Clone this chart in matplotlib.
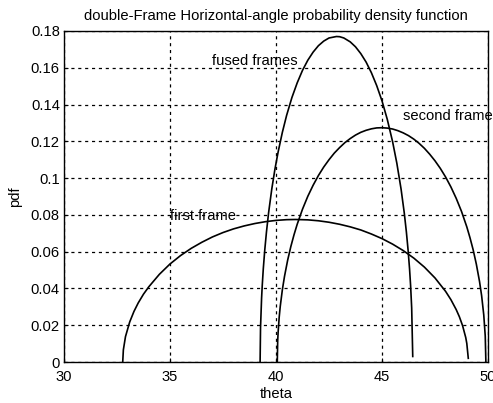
import matplotlib
matplotlib.use('Agg')
import matplotlib.pyplot as plt

# values
first_theta = [32.77, 32.8, 32.9, 33.1, 33.3, 33.5, 33.75, 34, 34.5, 35, 35.5, 36, 36.5,
               37, 37.5, 38, 38.5, 39, 39.5, 40, 40.5, 40.92, 41.5, 42, 42.5, 43, 43.5,
               44, 44.5, 45, 45.5, 46, 46.5, 47, 47.5, 48, 48.25, 48.5, 48.65, 48.8,
               48.95, 49.0, 49.07]
first_pdf = [0.0, 0.0066, 0.0138, 0.0218, 0.0275, 0.0321, 0.0369, 0.0409, 0.0477, 0.0533,
             0.0579, 0.0618, 0.0651, 0.0680, 0.0704, 0.0724, 0.0740, 0.0753, 0.0763,
             0.0770, 0.0774, 0.0775, 0.0773, 0.0768, 0.0760, 0.0749, 0.0735, 0.0718,
             0.0696, 0.0671, 0.0641, 0.0606, 0.0565, 0.0516, 0.0457, 0.0384, 0.0339,
             0.0285, 0.0246, 0.0198, 0.0133, 0.0101, 0.002]

second_theta = [40.06, 40.08, 40.1, 40.15, 40.2, 40.3, 40.4, 40.55, 40.7, 40.85, 41, 41.25,
                41.5, 41.75, 42, 42.25, 42.5, 42.75, 43, 43.25, 43.5, 43.75, 44, 44.25,
                44.5, 44.75, 44.98, 45.25, 45.5, 45.75, 46, 46.25, 46.5, 46.75, 47, 47.25,
                47.5, 47.75, 48, 48.25, 48.5, 48.75, 49, 49.15, 49.3, 49.45, 49.6, 49.7,
                49.8, 49.87, 49.9]
second_pdf = [0.0, 0.0115, 0.0162, 0.0243, 0.0302, 0.0393, 0.0465, 0.0554, 0.0628, 0.0692,
              0.0749, 0.0831, 0.0901, 0.0961, 0.1014, 0.1060, 0.1100, 0.1136, 0.1166,
              0.1193, 0.1215, 0.1234, 0.1249, 0.1260, 0.1268, 0.1273, 0.1274, 0.1272,
              0.1267, 0.1258, 0.1246, 0.1231, 0.1212, 0.1189, 0.1162, 0.1130, 0.1094,
              0.1053, 0.1006, 0.0952, 0.0890, 0.0819, 0.0735, 0.0676, 0.0610, 0.0532,
              0.0438, 0.0360, 0.0256, 0.0141, 0.0]

fused_theta = [39.25, 39.27, 39.32, 39.35, 39.4, 39.47, 39.55, 39.65, 39.8, 39.95, 40.1,
               40.3, 40.5, 40.75, 41, 41.25, 41.5, 41.75, 42, 42.25, 42.5, 42.85, 43.0,
               43.2, 43.5, 43.75, 44, 44.25, 44.5, 44.75, 45, 45.25, 45.5, 45.7, 45.9,
               46.05, 46.15, 46.23, 46.3, 46.35, 46.4, 46.45]
fused_pdf = [0.0, 0.0186, 0.0347, 0.0414, 0.0506, 0.0609, 0.0707, 0.0811, 0.0940, 0.1049,
             0.1142, 0.1249, 0.1341, 0.1438, 0.1518, 0.1586, 0.1641, 0.1685, 0.1720,
             0.1745, 0.1762, 0.1770, 0.1769, 0.1762, 0.1741, 0.1714, 0.1677, 0.1631,
             0.1573, 0.1503, 0.1420, 0.1319, 0.1198, 0.1081, 0.0940, 0.0811, 0.0707,
             0.0609, 0.0506, 0.0414, 0.0294, 0.003]

xticks = [30, 35, 40, 45, 50]
yticks = [0, 0.02, 0.04, 0.06, 0.08, 0.1, 0.12, 0.14, 0.16, 0.18]
ytick_labels = ['0', '0.02', '0.04', '0.06', '0.08', '0.1', '0.12', '0.14', '0.16', '0.18']

plt.rcParams['font.family'] = ['Liberation Sans', 'DejaVu Sans']
plt.rcParams['font.size'] = 10.6

fig = plt.figure(figsize=(4.93, 4.03), dpi=100)
ax = fig.add_axes([64 / 493, 1 - 362 / 403, (488 - 64) / 493, (362 - 31) / 403])

ax.plot(first_theta, first_pdf, color='black', lw=1.2)
ax.plot(second_theta, second_pdf, color='black', lw=1.2)
ax.plot(fused_theta, fused_pdf, color='black', lw=1.2)

ax.text(37.0, 0.1638, 'fused frames', va='center', ha='left')
ax.text(46.0, 0.134, 'second frame', va='center', ha='left', clip_on=False)
ax.text(35.0, 0.0796, 'first frame', va='center', ha='left')

ax.set_xlim(30, 50)
ax.set_ylim(0, 0.18)
ax.set_xticks(xticks)
ax.set_yticks(yticks)
ax.set_yticklabels(ytick_labels)
ax.tick_params(direction='in', length=3, color='black', labelsize=10.6)
ax.tick_params(axis='x', pad=6)
ax.tick_params(axis='y', pad=3)
ax.grid(True, color='black', linestyle=(0, (2.5, 3)), linewidth=0.9)
for s in ax.spines.values():
    s.set_linewidth(1.0)

ax.set_title('double-Frame Horizontal-angle probability density function', fontsize=10.6, pad=8)
ax.set_xlabel('theta', labelpad=2)
ax.set_ylabel('pdf', labelpad=6)

fig.savefig('out.png', dpi=100)
